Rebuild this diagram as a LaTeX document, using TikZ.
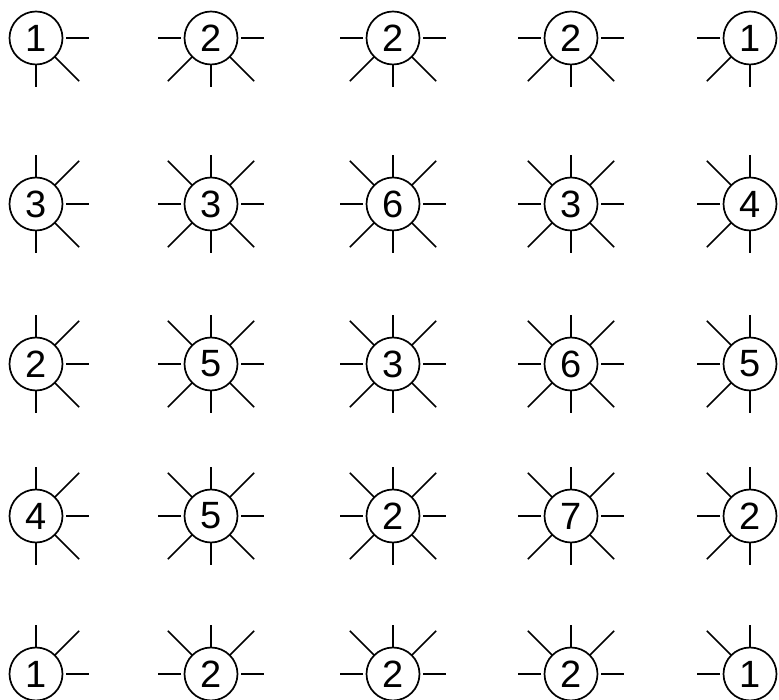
\documentclass[tikz,border=0pt]{standalone}
\usepackage{fontspec}
\setmainfont{Liberation Sans}
\tikzset{
  cell/.style={draw, circle, line width=1.7pt, minimum size=53pt, inner sep=0pt, font=\fontsize{38}{42}\selectfont},
  stub/.style={line width=1.6pt}
}
\begin{document}
\begin{tikzpicture}[x=1pt, y=1pt]
\useasboundingbox (0,0) rectangle (779,699);

% row 1
\node[cell] (n11) at (36,661) {1};
\node[cell] (n12) at (211,661) {2};
\node[cell] (n13) at (393,661) {2};
\node[cell] (n14) at (571,661) {2};
\node[cell] (n15) at (750,661) {1};
% row 2
\node[cell] (n21) at (36,495) {3};
\node[cell] (n22) at (211,495) {3};
\node[cell] (n23) at (393,495) {6};
\node[cell] (n24) at (571,495) {3};
\node[cell] (n25) at (750,495) {4};
% row 3
\node[cell] (n31) at (36,335) {2};
\node[cell] (n32) at (211,335) {5};
\node[cell] (n33) at (393,335) {3};
\node[cell] (n34) at (571,335) {6};
\node[cell] (n35) at (750,335) {5};
% row 4
\node[cell] (n41) at (36,183) {4};
\node[cell] (n42) at (211,183) {5};
\node[cell] (n43) at (393,183) {2};
\node[cell] (n44) at (571,183) {7};
\node[cell] (n45) at (750,183) {2};
% row 5
\node[cell] (n51) at (36,25) {1};
\node[cell] (n52) at (211,25) {2};
\node[cell] (n53) at (393,25) {2};
\node[cell] (n54) at (571,25) {2};
\node[cell] (n55) at (750,25) {1};

% stubs toward each neighbour
\foreach \r in {1,...,5}{
  \foreach \c in {1,...,5}{
    \foreach \dr/\dc in {-1/-1,-1/0,-1/1,0/-1,0/1,1/-1,1/0,1/1}{
      \pgfmathtruncatemacro\nr{\r+\dr}
      \pgfmathtruncatemacro\nc{\c+\dc}
      \pgfmathsetmacro\ang{atan2(-\dr,\dc)}
      \pgfmathsetmacro\rs{ifthenelse(\dr==0,30,27)}
      \pgfmathsetmacro\len{ifthenelse(\dr==0,23,ifthenelse(\dc==0,22,34))}
      \ifnum\nr<1\else\ifnum\nr>5\else\ifnum\nc<1\else\ifnum\nc>5\else
        \draw[stub] (n\r\c.center) ++(\ang:\rs pt) -- ++(\ang:\len pt);
      \fi\fi\fi\fi
    }
  }
}
\end{tikzpicture}
\end{document}
